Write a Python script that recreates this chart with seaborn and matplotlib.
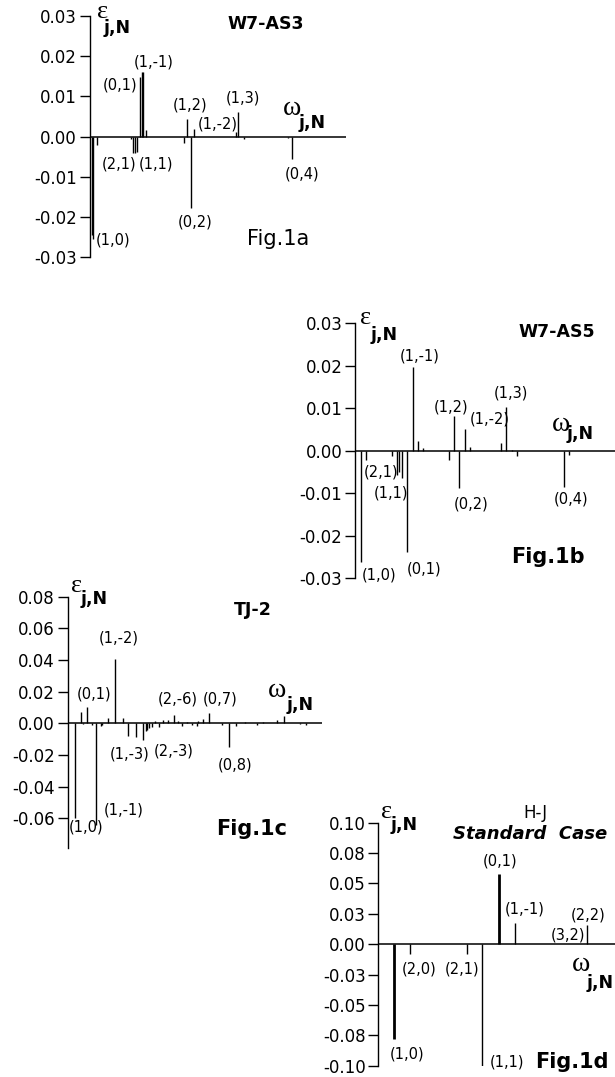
import matplotlib
matplotlib.use("Agg")
import matplotlib.pyplot as plt
import seaborn as sns
import pandas as pd

# ---------------- data (omega in arbitrary units 0..10 along each axis) ----------------
a_omega = [0.09, 0.15, 0.28, 1.62, 1.71, 1.77, 1.84, 1.97, 2.04, 2.10, 2.20,
           3.70, 3.81, 3.95, 4.06, 5.70, 5.78, 6.04, 7.73, 7.88]
a_eps = [-0.0245, -0.0255, -0.0021, -0.0006, -0.0042, -0.0042, -0.0038, 0.0148,
         0.0160, 0.0160, 0.0016, -0.0017, 0.0043, -0.0179, 0.0018, 0.0012,
         0.0061, -0.0005, -0.0003, -0.0055]

b_omega = [0.22, 0.42, 1.41, 1.60, 1.69, 1.80, 2.01, 2.22, 2.41, 2.63, 3.62,
           3.81, 4.01, 4.23, 4.42, 5.62, 5.81, 6.03, 6.22, 8.04, 8.24]
b_eps = [-0.0262, -0.0023, -0.0012, -0.0058, -0.0050, -0.0065, -0.0239, 0.0196,
         0.0023, 0.0006, -0.0023, 0.0081, -0.0088, 0.0052, 0.0008, 0.0017,
         0.0104, 0.0002, -0.0012, -0.0085, -0.0011]

c_omega = [0.30, 0.52, 0.60, 0.78, 0.98, 1.11, 1.31, 1.37, 1.61, 1.87, 2.17,
           2.39, 2.70, 2.96, 3.09, 3.14, 3.22, 3.31, 3.44, 3.61, 3.77, 3.97,
           4.19, 4.34, 4.49, 4.69, 4.89, 5.08, 5.15, 5.32, 5.56, 6.07, 6.37,
           6.63, 6.98, 7.44, 7.70, 8.23, 8.52, 9.15, 9.38]
c_eps = [-0.0597, 0.0070, -0.0007, 0.0106, -0.0010, -0.0639, -0.0014, -0.0008,
         0.0034, 0.0409, 0.0034, -0.0077, -0.0085, -0.0103, -0.0050, -0.0040,
         -0.0030, -0.0020, 0.0015, -0.0020, 0.0020, 0.0020, 0.0056, 0.0015,
         -0.0015, 0.0008, -0.0008, -0.0015, 0.0012, 0.0030, 0.0067, -0.0013,
         -0.0149, -0.0015, 0.0008, -0.0010, 0.0006, 0.0022, 0.0048, -0.0006,
         -0.0008]

d_omega = [0.66, 1.34, 3.74, 4.39, 5.11, 5.78, 8.80]
d_eps = [-0.0782, -0.0082, -0.0082, -0.1000, 0.0576, 0.0178, 0.0159]

a_ticks = [-0.03, -0.02, -0.01, 0.0, 0.01, 0.02, 0.03]
a_ticklabels = ["-0.03", "-0.02", "-0.01", "0.00", "0.01", "0.02", "0.03"]
b_ticks = a_ticks
b_ticklabels = a_ticklabels
c_ticks = [-0.06, -0.04, -0.02, 0.0, 0.02, 0.04, 0.06, 0.08]
c_ticklabels = ["-0.06", "-0.04", "-0.02", "0.00", "0.02", "0.04", "0.06", "0.08"]
d_ticks = [-0.1, -0.075, -0.05, -0.025, 0.0, 0.025, 0.05, 0.075, 0.1]
d_ticklabels = ["-0.10", "-0.08", "-0.05", "-0.03", "0.00", "0.03", "0.05", "0.08", "0.10"]

a_labels = ["(1,-1)", "(0,1)", "(1,2)", "(1,3)", "(1,-2)", "(2,1)", "(1,1)", "(0,2)", "(1,0)", "(0,4)"]
b_labels = ["(1,-1)", "(1,2)", "(1,-2)", "(1,3)", "(2,1)", "(1,1)", "(0,2)", "(0,4)", "(1,0)", "(0,1)"]
c_labels = ["(1,-2)", "(0,1)", "(2,-6)", "(0,7)", "(1,-3)", "(2,-3)", "(0,8)", "(1,-1)", "(1,0)"]
d_labels = ["(0,1)", "(1,-1)", "(2,2)", "(3,2)", "(2,0)", "(2,1)", "(1,0)", "(1,1)"]

titles = ["W7-AS3", "W7-AS5", "TJ-2", "H-J"]
subtitle_d = "Standard  Case"
fig_names = ["Fig.1a", "Fig.1b", "Fig.1c", "Fig.1d"]

# ---------------- layout (pixels) ----------------
W, H = 615, 1077
sns.set_style("white")
plt.rcParams["font.family"] = ["DejaVu Sans"]
plt.rcParams["axes.linewidth"] = 1.0
plt.rcParams["text.color"] = "black"
plt.rcParams["ytick.color"] = "black"
plt.rcParams["ytick.labelcolor"] = "black"

fig = plt.figure(figsize=(W / 100, H / 100), dpi=100)


def fx(x):
    return x / W


def fy(y):
    return 1 - y / H


def make_axes(left, right, top, bottom):
    return fig.add_axes([fx(left), fy(bottom), (right - left) / W, (bottom - top) / H])


panels = [
    dict(rect=(89.5, 346, 16, 257), om=a_omega, ep=a_eps, ylim=(-0.03, 0.03),
         ticks=a_ticks, tl=a_ticklabels),
    dict(rect=(355, 615, 323.3, 578), om=b_omega, ep=b_eps, ylim=(-0.03, 0.03),
         ticks=b_ticks, tl=b_ticklabels),
    dict(rect=(67.5, 321.7, 596.7, 848), om=c_omega, ep=c_eps, ylim=(-0.0787, 0.08),
         ticks=c_ticks, tl=c_ticklabels),
    dict(rect=(378.3, 615, 822.7, 1065.7), om=d_omega, ep=d_eps, ylim=(-0.1, 0.1),
         ticks=d_ticks, tl=d_ticklabels),
]
thick_d = [0, 4]

axes = []
for i, p in enumerate(panels):
    ax = make_axes(*p["rect"])
    df = pd.DataFrame({"omega": p["om"], "eps": p["ep"]})
    lw = [1.0] * len(df)
    if i == 3:
        for k in thick_d:
            lw[k] = 2.0
    ax.vlines(df["omega"], 0, df["eps"], colors="black", linewidth=lw)
    ax.axhline(0, color="black", lw=1.1)
    ax.set_xlim(0, 10)
    ax.set_ylim(*p["ylim"])
    ax.set_yticks(p["ticks"])
    ax.set_yticklabels(p["tl"])
    ax.set_xticks([])
    for s in ["top", "right", "bottom"]:
        ax.spines[s].set_visible(False)
    ax.spines["left"].set_color("black")
    ax.tick_params(axis="y", direction="out", length=7, width=1, pad=2,
                   labelsize=12, colors="black", left=True)
    ax.set_facecolor("none")
    axes.append(ax)

LBL = 10.5
SERIF = ["Liberation Serif", "DejaVu Serif"]


def t(x, y, s, **kw):
    kw.setdefault("ha", "center")
    kw.setdefault("va", "baseline")
    kw.setdefault("color", "black")
    fig.text(fx(x), fy(y), s, **kw)


def eps_label(x1, y1, x2, y2):
    t(x1, y1, "\u03b5", fontsize=19, family=SERIF)
    t(x2, y2, "j,N", fontsize=12.5, fontweight="bold")


def om_label(x1, y1, x2, y2):
    t(x1, y1, "\u03c9", fontsize=20, family=SERIF)
    t(x2, y2, "j,N", fontsize=12.5, fontweight="bold")


# panel a
eps_label(102.5, 17.5, 117.5, 32.7)
om_label(292.5, 115, 312.5, 127.7)
t(266, 29, titles[0], fontsize=12.5, fontweight="bold")
t(278, 245, fig_names[0], fontsize=15)
a_pos = [(153.3, 66.7), (120.5, 89.3), (190.3, 110), (243.3, 102.7), (217.3, 128.3),
         (119.2, 168.3), (156, 168.3), (195, 226.7), (112.7, 244), (301.7, 178.3)]
for s, (x, y) in zip(a_labels, a_pos):
    t(x, y, s, fontsize=LBL)

# panel b
eps_label(365.8, 324.5, 384, 340)
om_label(560.8, 431, 580, 439)
t(556.7, 337.3, titles[1], fontsize=12.5, fontweight="bold")
t(548.3, 563.3, fig_names[1], fontsize=15, fontweight="bold")
b_pos = [(420, 360), (450.8, 411.7), (489.3, 423.3), (510.5, 397.3), (380.8, 476.7),
         (390.8, 497.3), (470.8, 508.3), (570.8, 504), (378.7, 580), (423.8, 574)]
for s, (x, y) in zip(b_labels, b_pos):
    t(x, y, s, fontsize=LBL)

# panel c
eps_label(76.7, 592, 94, 604)
om_label(276.7, 697, 300, 710)
t(253.3, 615, titles[2], fontsize=12.5, fontweight="bold")
t(251.7, 835, fig_names[2], fontsize=15, fontweight="bold")
c_pos = [(119.2, 642.3), (93.7, 698.3), (177.5, 704), (220.2, 703.3), (129.2, 758.3),
         (173.3, 755), (235.3, 769.3), (123.8, 814.3), (86.3, 831.7)]
for s, (x, y) in zip(c_labels, c_pos):
    t(x, y, s, fontsize=LBL)

# panel d
eps_label(386.7, 817.5, 404.5, 830)
om_label(580.8, 971, 600, 988.3)
t(535, 818.3, titles[3], fontsize=12)
t(530, 839.3, subtitle_d, fontsize=13, fontweight="bold", fontstyle="italic")
t(571.7, 1068.3, fig_names[3], fontsize=15, fontweight="bold")
d_pos = [(500.5, 866), (525, 913.3), (588.3, 919.3), (567.7, 939.3), (419, 974),
         (462.3, 974), (406.7, 1058.3), (506.7, 1066.7)]
for s, (x, y) in zip(d_labels, d_pos):
    t(x, y, s, fontsize=LBL)

fig.savefig("out.png", dpi=100, facecolor="white")
